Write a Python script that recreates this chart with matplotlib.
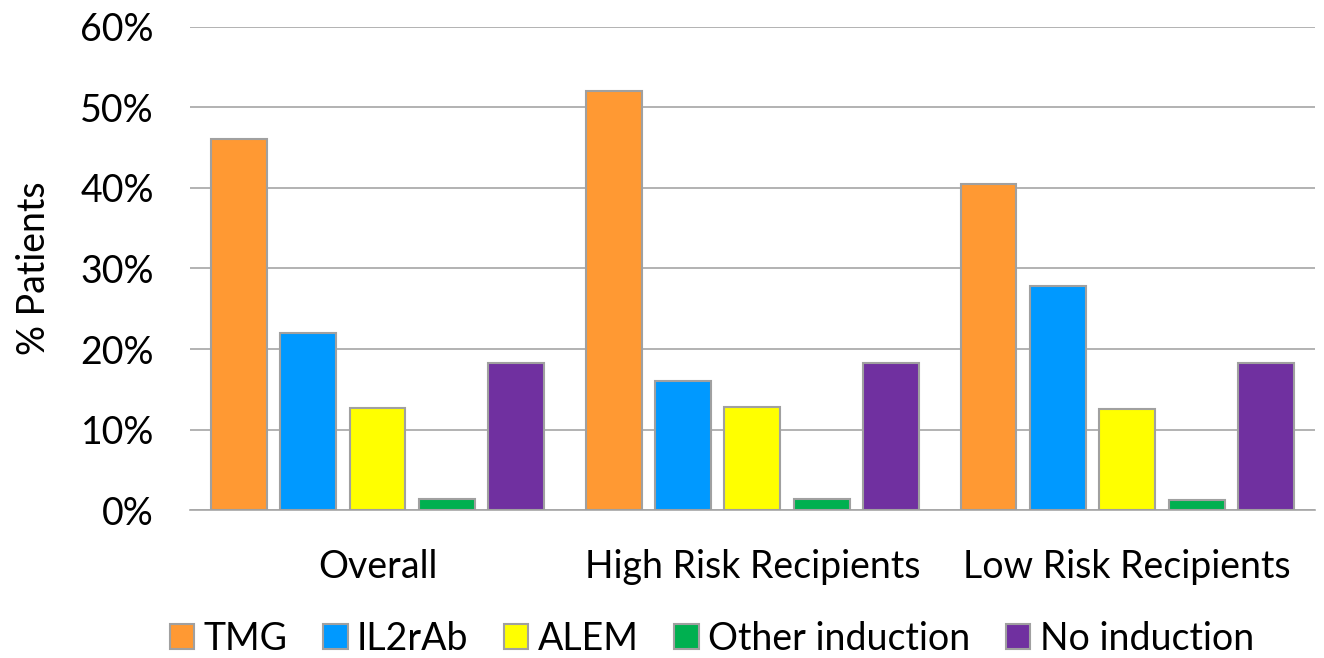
import numpy as np
import matplotlib
matplotlib.use("Agg")
import matplotlib.pyplot as plt
from matplotlib.ticker import PercentFormatter

# data
groups = ["Overall", "High Risk Recipients", "Low Risk Recipients"]
series = ["TMG", "IL2rAb", "ALEM", "Other induction", "No induction"]
tmg = [46.1, 52.0, 40.5]
il2rab = [22.0, 16.0, 27.8]
alem = [12.7, 12.8, 12.5]
other = [1.4, 1.4, 1.2]
no_induction = [18.3, 18.3, 18.3]
colors = ["#FF9933", "#0099FF", "#FFFF00", "#00B050", "#7030A0"]

plt.rcParams["font.family"] = ["Lato", "DejaVu Sans"]

fig = plt.figure(figsize=(13.24, 6.58), dpi=100)
ax = fig.add_axes([0.1435, 0.2249, 0.8495, 0.7341])

x = np.arange(len(groups))
pitch = 0.185
width = 0.149
values = [tmg, il2rab, alem, other, no_induction]
for i, (name, vals, c) in enumerate(zip(series, values, colors)):
    ax.bar(x + (i - 2) * pitch, vals, width, color=c, edgecolor="#A0A0A0",
           linewidth=1.5, label=name, zorder=3)

ax.set_xlim(-0.5, 2.5)
ax.set_ylim(0, 60)
ax.set_yticks(range(0, 61, 10))
ax.yaxis.set_major_formatter(PercentFormatter(decimals=0))
ax.grid(axis="y", color="#A6A6A6", linewidth=1.2, zorder=0)
for s in ["left", "right", "top"]:
    ax.spines[s].set_visible(False)
ax.spines["bottom"].set_color("#A6A6A6")
ax.spines["bottom"].set_linewidth(1.2)
ax.set_xticks(x)
ax.set_xticklabels(groups)
ax.tick_params(axis="both", length=0, labelsize=27)
ax.tick_params(axis="x", pad=28)
ax.tick_params(axis="y", pad=26)
ax.set_ylabel("% Patients", fontsize=27, labelpad=20)

ax.legend(loc="upper center", bbox_to_anchor=(0.464, -0.16), ncol=5, frameon=False,
          fontsize=27, handlelength=0.65, handleheight=0.65, handletextpad=0.25,
          columnspacing=0.95)

fig.savefig("out.png", dpi=100)
